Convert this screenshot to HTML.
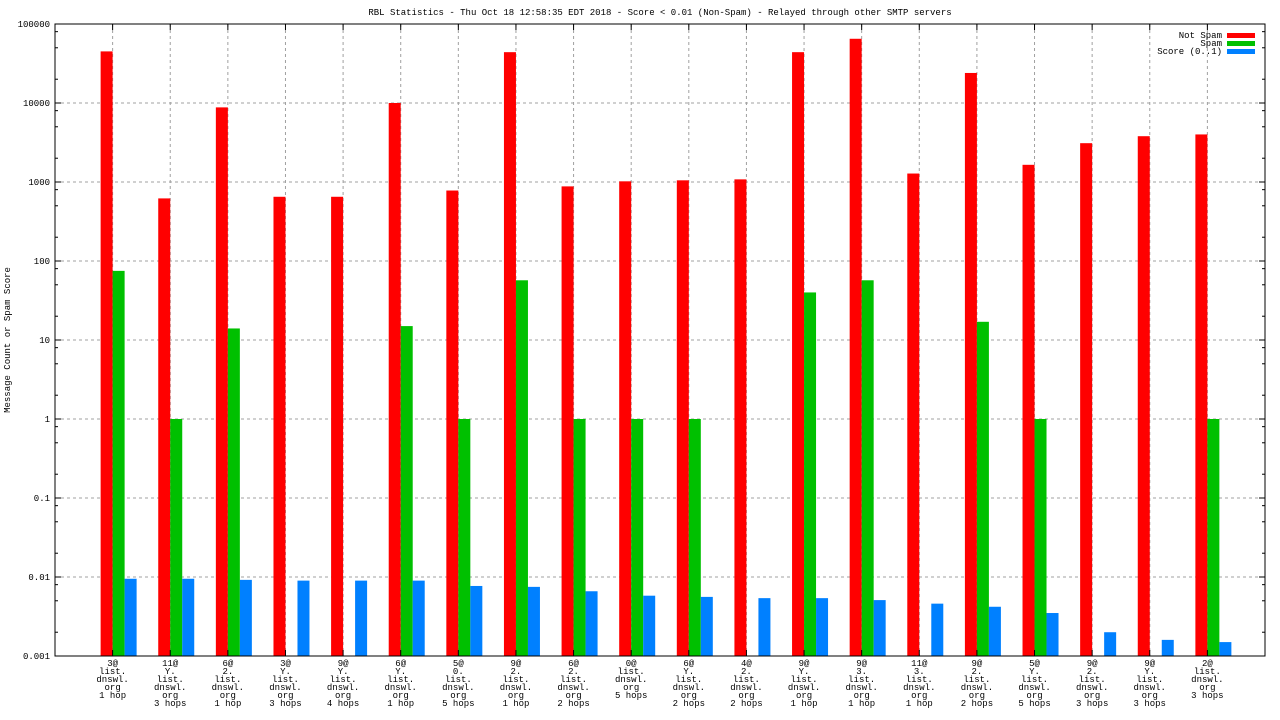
<!DOCTYPE html>
<html><head><meta charset="utf-8"><style>
html,body{margin:0;padding:0;background:#fff}
svg{display:block}
text{font-family:"Liberation Mono","DejaVu Sans Mono",monospace;font-size:9px;fill:#000}
</style></head><body>
<svg id="chart" width="1280" height="720" viewBox="0 0 1280 720" xmlns="http://www.w3.org/2000/svg">
<text x="660" y="15" text-anchor="middle">RBL Statistics - Thu Oct 18 12:58:35 EDT 2018 - Score &lt; 0.01 (Non-Spam) - Relayed through other SMTP servers</text>
<text transform="translate(10,340) rotate(-90)" text-anchor="middle">Message Count or Spam Score</text>
<g id="grid"></g><g id="bars"></g><g id="axes"></g><g id="labels"></g>
<g>
<text x="1222" y="38" text-anchor="end">Not Spam</text>
<rect x="1227" y="33" width="28" height="5" fill="#ff0000"/>
<text x="1222" y="46" text-anchor="end">Spam</text>
<rect x="1227" y="41" width="28" height="5" fill="#00c000"/>
<text x="1222" y="54" text-anchor="end">Score (0..1)</text>
<rect x="1227" y="49" width="28" height="5" fill="#0080ff"/>
</g>
</svg>
<script>
const categories=[
["3@","list.","dnswl.","org","1 hop"],["11@","Y.","list.","dnswl.","org","3 hops"],["6@","2.","list.","dnswl.","org","1 hop"],["3@","Y.","list.","dnswl.","org","3 hops"],["9@","Y.","list.","dnswl.","org","4 hops"],["6@","Y.","list.","dnswl.","org","1 hop"],["5@","0.","list.","dnswl.","org","5 hops"],["9@","2.","list.","dnswl.","org","1 hop"],["6@","2.","list.","dnswl.","org","2 hops"],["0@","list.","dnswl.","org","5 hops"],["6@","Y.","list.","dnswl.","org","2 hops"],["4@","2.","list.","dnswl.","org","2 hops"],["9@","Y.","list.","dnswl.","org","1 hop"],["9@","3.","list.","dnswl.","org","1 hop"],["11@","3.","list.","dnswl.","org","1 hop"],["9@","2.","list.","dnswl.","org","2 hops"],["5@","Y.","list.","dnswl.","org","5 hops"],["9@","2.","list.","dnswl.","org","3 hops"],["9@","Y.","list.","dnswl.","org","3 hops"],["2@","list.","dnswl.","org","3 hops"]];
const notSpam=[45000,620,8800,650,650,10000,780,44000,880,1020,1050,1080,44000,65000,1280,24000,1650,3100,3800,4000];
const spam=[75,1,14,0,0,15,1,57,1,1,1,0,40,57,0,17,1,0,0,1];
const score=[0.0095,0.0095,0.0092,0.009,0.009,0.009,0.0077,0.0075,0.0066,0.0058,0.0056,0.0054,0.0054,0.0051,0.0046,0.0042,0.0035,0.002,0.0016,0.0015];
const yTicks=["0.001","0.01","0.1","1","10","100","1000","10000","100000"];
const NS="http://www.w3.org/2000/svg";
const L=55,R=1265,T=24,B=656;
const yMin=-3,yMax=5;
function y(v){return B-(Math.log10(v)-yMin)/(yMax-yMin)*(B-T);}
function x(i){return L+(R-L)/(categories.length+1)*(i+1);}
function mk(tag,attrs,parent){const e=document.createElementNS(NS,tag);for(const k in attrs)e.setAttribute(k,attrs[k]);document.getElementById(parent).appendChild(e);return e;}
const g='grid';
yTicks.forEach(t=>{const v=parseFloat(t),yy=y(v);
 if(v>0.001&&v<100000){const l=mk('line',{x1:L,x2:R,y1:yy,y2:yy,stroke:'#a0a0a0','stroke-dasharray':'3,3'},g);
 
 }
 const tx=mk('text',{x:L-5,y:yy+3,'text-anchor':'end'},'labels');tx.textContent=t;
 
 
 mk('line',{x1:L,x2:L+6,y1:yy,y2:yy,stroke:'#000'},'axes');mk('line',{x1:R,x2:R-6,y1:yy,y2:yy,stroke:'#000'},'axes');
 if(v<100000)[2,5,8].forEach(m=>{const my=y(v*m);mk('line',{x1:L,x2:L+3,y1:my,y2:my,stroke:'#000'},'axes');mk('line',{x1:R,x2:R-3,y1:my,y2:my,stroke:'#000'},'axes');});
});
categories.forEach((c,i)=>{const cx=x(i);
 const gl=mk('line',{x1:cx,x2:cx,y1:T,y2:B,stroke:'#a0a0a0','stroke-dasharray':'3,3'},g);
 
 
 mk('line',{x1:cx,x2:cx,y1:T,y2:T+6,stroke:'#000'},'axes');mk('line',{x1:cx,x2:cx,y1:B,y2:B-6,stroke:'#000'},'axes');
 [[notSpam,'#ff0000',-12,'bar-not-spam'],[spam,'#00c000',0,'bar-spam'],[score,'#0080ff',12,'bar-score']].forEach(([arr,col,off,nm])=>{
  const v=arr[i];if(!(v>0))return;const yy=Math.max(T,y(v));
  const r=mk('rect',{x:cx+off,y:yy,width:12,height:B-yy,fill:col},'bars');
  
  
 });
 const tx=mk('text',{x:cx,y:666,'text-anchor':'middle'},'labels');
 
 
 c.forEach((s,k)=>{const ts=document.createElementNS(NS,'tspan');ts.setAttribute('x',cx);ts.setAttribute('dy',k?8:0);ts.textContent=s;tx.appendChild(ts);});
});
const fr=mk('rect',{x:L,y:T,width:R-L,height:B-T,fill:'none',stroke:'#000'},'axes');


</script>
</body></html>
